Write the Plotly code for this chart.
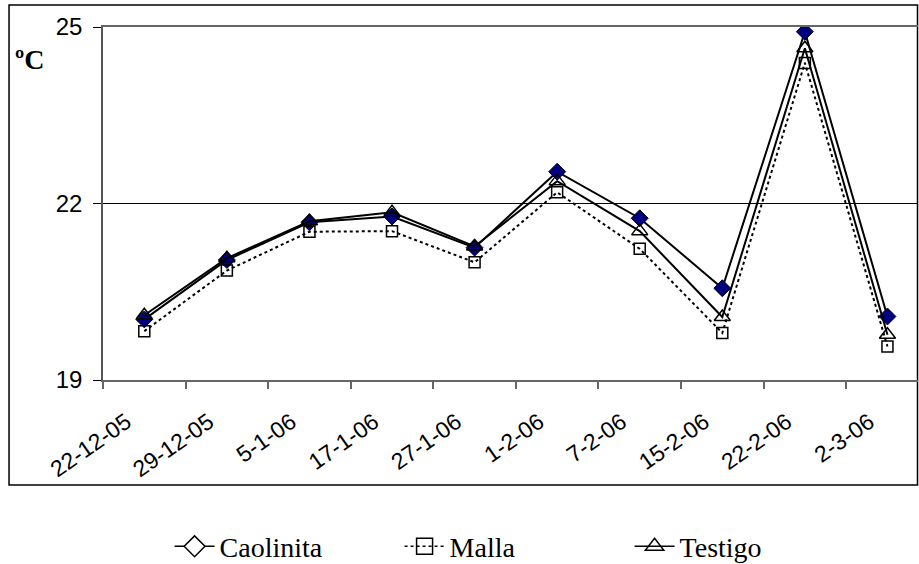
import plotly.graph_objects as go

categories = ["22-12-05", "29-12-05", "5-1-06", "17-1-06", "27-1-06",
              "1-2-06", "7-2-06", "15-2-06", "22-2-06", "2-3-06"]
caolinita = [20.03, 21.04, 21.68, 21.78, 21.25, 22.54, 21.75, 20.56, 24.92, 20.08]
malla = [19.83, 20.86, 21.52, 21.53, 21.00, 22.19, 21.23, 19.80, 24.39, 19.57]
testigo = [20.10, 21.07, 21.70, 21.85, 21.27, 22.38, 21.53, 20.07, 24.64, 19.77]
y_ticks = [19, 22, 25]

fig = go.Figure()

# data traces
fig.add_trace(go.Scatter(
    x=categories, y=caolinita, mode="lines+markers", name="Caolinita",
    showlegend=False,
    line=dict(color="black", width=2),
    marker=dict(symbol="diamond", size=13, color="#000080",
                line=dict(color="black", width=1))))
fig.add_trace(go.Scatter(
    x=categories, y=malla, mode="lines+markers", name="Malla",
    showlegend=False,
    line=dict(color="black", width=2, dash="dot"),
    marker=dict(symbol="square-open", size=11, color="black",
                line=dict(color="black", width=1.5))))
fig.add_trace(go.Scatter(
    x=categories, y=testigo, mode="lines+markers", name="Testigo",
    showlegend=False,
    line=dict(color="black", width=2),
    marker=dict(symbol="triangle-up-open", size=14, color="black",
                line=dict(color="black", width=1.5))))

# legend entries
fig.add_trace(go.Scatter(
    x=[None], y=[None], mode="lines+markers", name="Caolinita",
    line=dict(color="black", width=1.5),
    marker=dict(symbol="diamond", size=17, color="white",
                line=dict(color="black", width=1.5))))
fig.add_trace(go.Scatter(
    x=[None], y=[None], mode="lines+markers", name="Malla",
    line=dict(color="black", width=1.5, dash="dot"),
    marker=dict(symbol="square-open", size=17, color="black",
                line=dict(color="black", width=1.5))))
fig.add_trace(go.Scatter(
    x=[None], y=[None], mode="lines+markers", name="Testigo",
    line=dict(color="black", width=1.5),
    marker=dict(symbol="triangle-up-open", size=17, color="black",
                line=dict(color="black", width=1.5))))

fig.update_layout(
    width=919, height=564,
    margin=dict(l=103, r=1, t=27, b=184, autoexpand=False),
    paper_bgcolor="white", plot_bgcolor="white",
    font=dict(family="Liberation Sans, Arial", color="black", size=23),
    showlegend=True,
    legend=dict(orientation="h", x=0.505, y=-0.472, xanchor="center",
                yanchor="middle",
                font=dict(family="Liberation Serif, Times New Roman", size=28),
                bgcolor="rgba(0,0,0,0)", itemwidth=40,
                entrywidth=175, entrywidthmode="pixels"),
    xaxis=dict(type="category", categoryorder="array", categoryarray=categories,
               range=[-0.5, 9.37], tickson="boundaries", ticks="outside",
               ticklen=7, tickcolor="#666", tickwidth=1.5,
               showline=True, linecolor="#666", linewidth=1.5, mirror=True,
               showgrid=False, tickangle=-35, ticklabelstandoff=18,
               ticklabelshift=-18,
               tickfont=dict(family="Liberation Sans, Arial", size=23)),
    yaxis=dict(range=[19, 25], tickvals=y_ticks, ticks="outside",
               ticklen=8, tickcolor="black", tickwidth=1,
               showline=True, linecolor="#555", linewidth=1.5,
               showgrid=True, gridcolor="black", gridwidth=1,
               zeroline=False, ticklabelstandoff=6,
               tickfont=dict(family="Liberation Sans, Arial", size=24)),
    shapes=[dict(type="rect", xref="paper", yref="paper",
                 x0=-0.1153, x1=0.9994, y0=-0.2975, y1=1.0623,
                 line=dict(color="black", width=1.5), fillcolor="rgba(0,0,0,0)",
                 layer="below")],
    annotations=[dict(text="<b>ºC</b>", xref="paper", yref="paper",
                      x=-0.11, y=0.958, showarrow=False,
                      font=dict(family="Liberation Serif, Times New Roman",
                                size=28, color="black"))],
)

fig.write_html("out.html")
